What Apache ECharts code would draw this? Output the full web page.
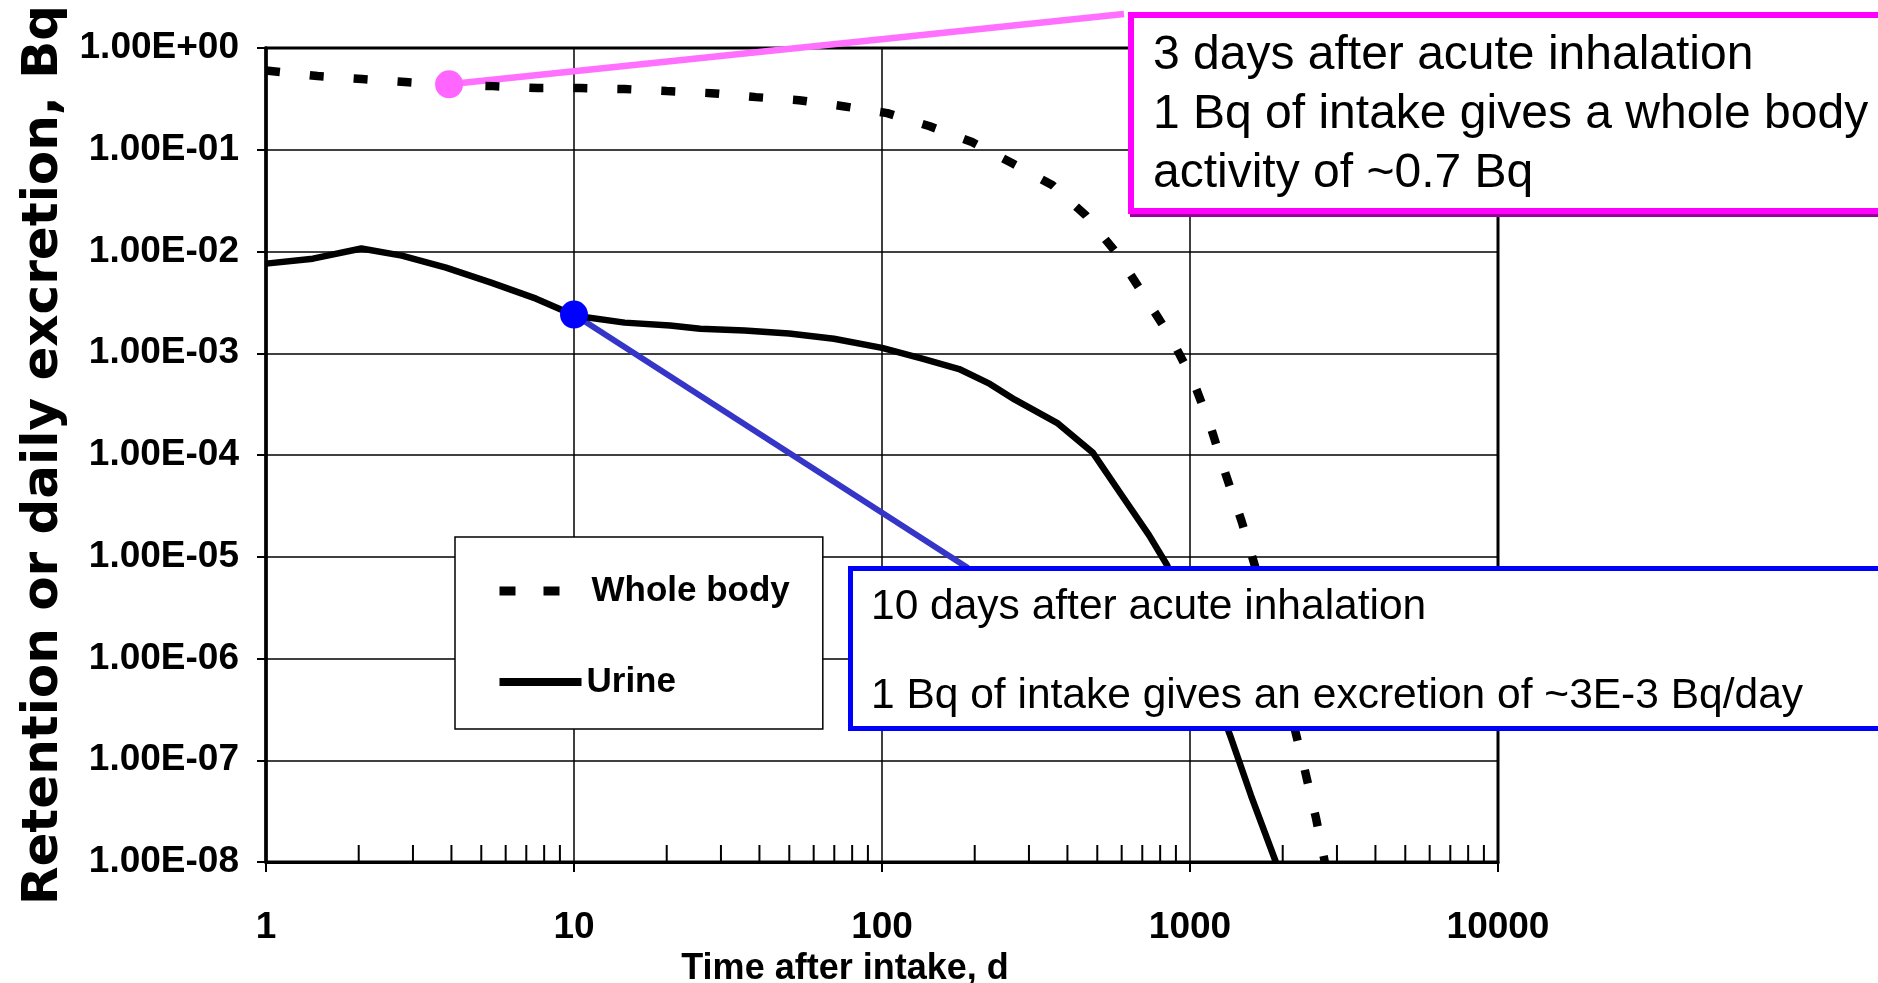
<!DOCTYPE html>
<html>
<head>
<meta charset="utf-8">
<script src="https://cdn.jsdelivr.net/npm/echarts@6/dist/echarts.min.js"></script>
<style>
  html, body { margin: 0; padding: 0; background: #fff; }
  #chart { width: 1878px; height: 983px; }
</style>
</head>
<body>
<div id="chart"></div>
<script>
// data (days after intake, Bq)
const wbDays = [1, 1.47, 2.05, 2.83, 3.93, 5.46, 7.64, 10.5, 14.6, 20, 27.9, 39, 53.8, 74.7, 104, 143, 196, 265, 358, 459, 580, 709, 867, 1023, 1161, 1303, 1473, 1625, 2357, 2565, 2740];
const wbValues = [0.6, 0.53, 0.495, 0.463, 0.432, 0.422, 0.404, 0.404, 0.395, 0.377, 0.36, 0.329, 0.307, 0.268, 0.229, 0.17, 0.119, 0.0736, 0.0447, 0.0226, 0.0095, 3.7e-3, 1.42e-3, 5.4e-4, 1.98e-4, 6.6e-5, 2.2e-5, 8.1e-6, 8.1e-8, 2.7e-8, 1e-8];

const urineDays = [1, 1.42, 2.04, 2.76, 3.84, 5.38, 7.53, 10.1, 14.6, 20.5, 25.7, 35.8, 49.9, 69.8, 100, 136, 178, 224, 270, 370, 484, 608, 736, 842, 1355, 1578, 1900];
const urineValues = [7.6e-3, 8.5e-3, 1.07e-2, 9.1e-3, 6.95e-3, 4.95e-3, 3.44e-3, 2.34e-3, 2.0e-3, 1.87e-3, 1.74e-3, 1.67e-3, 1.56e-3, 1.39e-3, 1.13e-3, 8.8e-4, 7.0e-4, 5.0e-4, 3.5e-4, 2.07e-4, 1.05e-4, 3.8e-5, 1.63e-5, 8.3e-6, 1.7e-7, 4.5e-8, 1e-8];

const xTickLabels = ['1', '10', '100', '1000', '10000'];
const yTickLabels = ['1.00E-08', '1.00E-07', '1.00E-06', '1.00E-05', '1.00E-04', '1.00E-03', '1.00E-02', '1.00E-01', '1.00E+00'];

// annotated points
const wbPoint = [3.93, 0.44];
const urinePoint = [10, 2.4e-3];

const pinkNote = ['3 days after acute inhalation', '1 Bq of intake gives a whole body', 'activity of ~0.7 Bq'];
const blueNote = ['10 days after acute inhalation', '1 Bq of intake gives an excretion of ~3E-3 Bq/day'];

// minor ticks 2..9 inside each decade
const decades = [1, 10, 100, 1000];
const minorTicks = [];
decades.forEach(d => { for (let m = 2; m <= 9; m++) minorTicks.push([d * m, 1e-8]); });

const sans = "'Liberation Sans', Arial, sans-serif";

const chart = echarts.init(document.getElementById('chart'), null, { renderer: 'canvas' });

const noteGraphics = [
  // whole body note
  { type: 'rect', z: 100, shape: { x: 1133, y: 18, width: 900, height: 196 }, style: { fill: 'none', stroke: '#990099', lineWidth: 6 } },
  { type: 'rect', z: 101, shape: { x: 1131, y: 15, width: 900, height: 196 }, style: { fill: '#fff', stroke: '#ff00ff', lineWidth: 6 } },
  ...pinkNote.map((t, i) => ({
    type: 'text', z: 102, x: 1153, y: 56 + i * 59,
    style: { text: t, fill: '#000', fontFamily: sans, fontSize: 48, verticalAlign: 'middle' }
  })),
  // urine note
  { type: 'rect', z: 100, shape: { x: 850.5, y: 568.5, width: 1100, height: 160 }, style: { fill: '#fff', stroke: '#0000ff', lineWidth: 5 } },
  ...blueNote.map((t, i) => ({
    type: 'text', z: 102, x: 871, y: 607 + i * 89,
    style: { text: t, fill: '#000', fontFamily: sans, fontSize: 42.5, verticalAlign: 'middle' }
  }))
];

const option = {
  backgroundColor: '#fff',
  animation: false,
  grid: {
    left: 266, right: 380, top: 48, bottom: 121,
    outerBoundsMode: 'none',
    containLabel: false,
    show: true, borderColor: '#000', borderWidth: 3, backgroundColor: 'transparent'
  },
  legend: {
    orient: 'vertical',
    left: 455, top: 537,
    padding: [31, 33, 24, 40],
    itemGap: 45,
    itemWidth: 82, itemHeight: 14,
    backgroundColor: '#fff',
    borderColor: '#000', borderWidth: 1.5,
    itemStyle: { opacity: 0 },
    textStyle: { fontFamily: sans, fontWeight: 'bold', fontSize: 35, color: '#000', lineHeight: 46 },
    data: [
      { name: 'Whole body', textStyle: { padding: [0, 0, 0, 5] },
        lineStyle: { color: '#000', width: 9, type: [16, 28], cap: 'butt' } },
      { name: 'Urine', lineStyle: { color: '#000', width: 8 } }
    ]
  },
  xAxis: {
    type: 'log', logBase: 10, min: 1, max: 10000, splitNumber: 4,
    name: 'Time after intake, d',
    nameLocation: 'middle', nameGap: 89,
    nameTextStyle: { fontFamily: sans, fontWeight: 'bold', fontSize: 36, color: '#000', padding: [0, 74, 0, 0] },
    axisLine: { show: true, lineStyle: { color: '#000', width: 3 } },
    axisTick: { show: true, inside: false, length: 10, lineStyle: { color: '#000', width: 2 } },
    splitLine: { show: true, lineStyle: { color: '#000', width: 1.5 } },
    minorTick: { show: false },
    axisLabel: {
      margin: 47, fontFamily: sans, fontWeight: 'bold', fontSize: 37, color: '#000',
      formatter: v => xTickLabels[Math.round(Math.log10(v))]
    }
  },
  yAxis: {
    type: 'log', logBase: 10, min: 1e-8, max: 1, splitNumber: 8,
    name: 'Retention or daily excretion, Bq',
    nameLocation: 'middle', nameGap: 166, nameRotate: 90,
    nameTextStyle: { fontFamily: "'DejaVu Sans', sans-serif", fontWeight: 'bold', fontSize: 50, color: '#000' },
    axisLine: { show: true, lineStyle: { color: '#000', width: 3.5 } },
    axisTick: { show: true, inside: false, length: 9, lineStyle: { color: '#000', width: 2 } },
    splitLine: { show: true, lineStyle: { color: '#000', width: 1.5 } },
    axisLabel: {
      margin: 27, fontFamily: sans, fontWeight: 'bold', fontSize: 37, color: '#000',
      formatter: v => yTickLabels[Math.round(Math.log10(v)) + 8]
    }
  },
  series: [
    {
      name: 'Whole body',
      type: 'line',
      data: wbDays.map((d, i) => [d, wbValues[i]]),
      symbol: 'none',
      z: 2,
      itemStyle: { color: '#000' },
      lineStyle: { color: '#000', width: 8.5, type: [14, 30], cap: 'butt' }
    },
    {
      name: 'Urine',
      type: 'line',
      data: urineDays.map((d, i) => [d, urineValues[i]]),
      symbol: 'none',
      z: 2,
      itemStyle: { color: '#000' },
      lineStyle: { color: '#000', width: 6.5, join: 'round' }
    },
    {
      type: 'custom',
      silent: true,
      z: 3,
      data: minorTicks,
      renderItem: (params, api) => {
        const p = api.coord([api.value(0), api.value(1)]);
        return {
          type: 'line',
          shape: { x1: p[0], y1: p[1], x2: p[0], y2: p[1] - 17 },
          style: { stroke: '#000', lineWidth: 2 }
        };
      }
    },
    {
      type: 'scatter',
      silent: true,
      clip: false,
      z: 6,
      symbolSize: 28,
      data: [
        { value: wbPoint, itemStyle: { color: '#ff66ff', opacity: 1 } },
        { value: urinePoint, itemStyle: { color: '#0000ff', opacity: 1 } }
      ]
    }
  ],
  graphic: noteGraphics
};

chart.setOption(option);

// connector lines from the annotated points to their notes
const pinkPx = chart.convertToPixel({ gridIndex: 0 }, wbPoint);
const bluePx = chart.convertToPixel({ gridIndex: 0 }, urinePoint);
chart.setOption({
  graphic: noteGraphics.concat([
    { type: 'line', z: 1, shape: { x1: pinkPx[0], y1: pinkPx[1], x2: 1124, y2: 14 },
      style: { stroke: '#ff70ff', lineWidth: 6.5 } },
    { type: 'line', z: 1, shape: { x1: bluePx[0], y1: bluePx[1], x2: 968, y2: 568 },
      style: { stroke: '#3535c8', lineWidth: 6 } }
  ])
});
</script>
</body>
</html>
